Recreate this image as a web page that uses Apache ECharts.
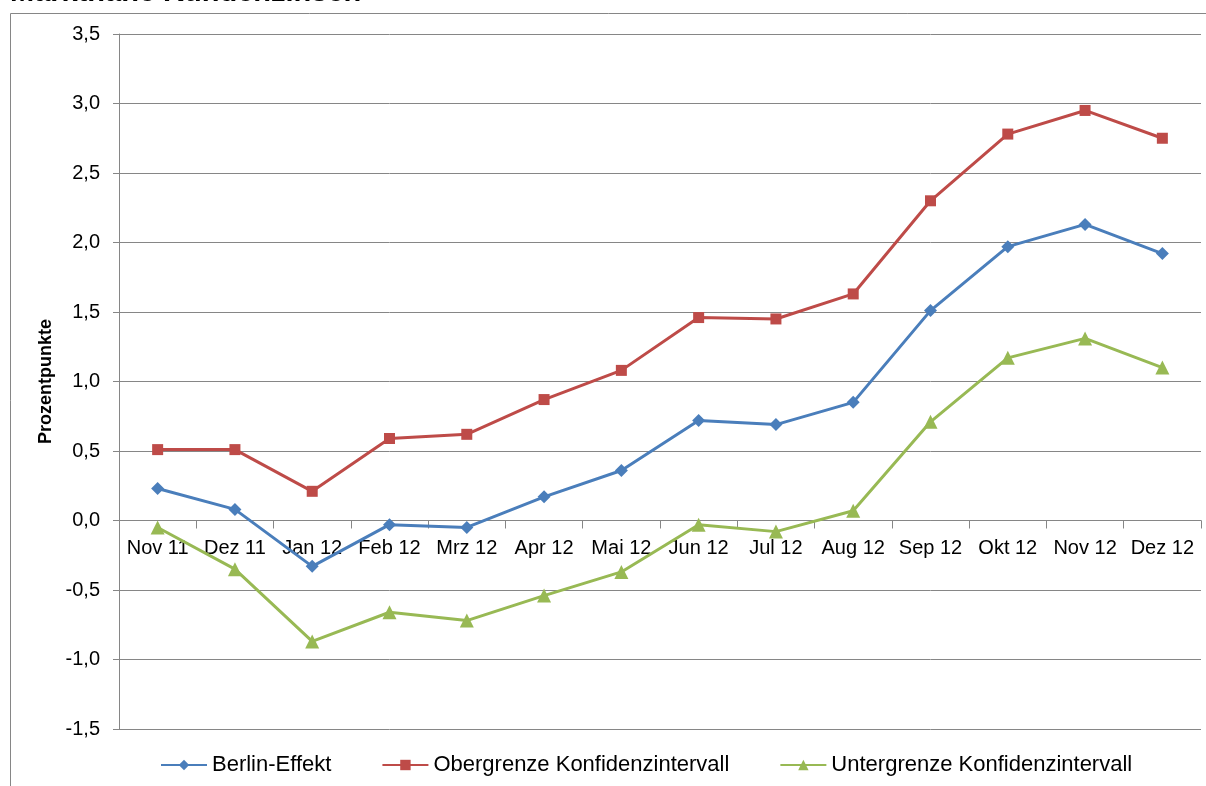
<!DOCTYPE html>
<html>
<head>
<meta charset="utf-8">
<script src="https://cdn.jsdelivr.net/npm/echarts@6/dist/echarts.min.js"></script>
<style>
  html, body { margin: 0; padding: 0; background: #fff; }
  #chart { width: 1206px; height: 786px; }
</style>
</head>
<body>
<div id="chart"></div>
<script>
// months along the x axis
const months = ["Nov 11", "Dez 11", "Jan 12", "Feb 12", "Mrz 12", "Apr 12", "Mai 12",
  "Jun 12", "Jul 12", "Aug 12", "Sep 12", "Okt 12", "Nov 12", "Dez 12"];

// values (Prozentpunkte)
const berlin_effekt = [0.23, 0.08, -0.33, -0.03, -0.05, 0.17, 0.36, 0.72, 0.69, 0.85, 1.51, 1.97, 2.13, 1.92];
const obergrenze = [0.51, 0.51, 0.21, 0.59, 0.62, 0.87, 1.08, 1.46, 1.45, 1.63, 2.30, 2.78, 2.95, 2.75];
const untergrenze = [-0.05, -0.35, -0.87, -0.66, -0.72, -0.54, -0.37, -0.03, -0.08, 0.07, 0.71, 1.17, 1.31, 1.10];

const FONT = "'Liberation Sans', Arial, sans-serif";
const GRID_GRAY = "#868686";
const FS = 20;

function line(name, data, color, symbol, size) {
    return {
        name,
        type: "line",
        data,
        symbol,
        symbolSize: size,
        lineStyle: { color, width: 3 },
        itemStyle: { color },
        emphasis: { disabled: true },
        animation: false,
    };
}

const chart = echarts.init(document.getElementById("chart"), null, { renderer: "canvas" });

chart.setOption({
    animation: false,
    textStyle: { fontFamily: FONT },
    graphic: [
        // frame around the chart area (cut off at the right and bottom)
        {
            type: "rect",
            shape: { x: 10.5, y: 13.5, width: 1400, height: 1000 },
            style: { fill: null, stroke: GRID_GRAY, lineWidth: 1 },
            silent: true,
        },
        // title, mostly cut off above the picture
        {
            type: "text",
            x: 10,
            y: 7,
            style: {
                text: "Marktnahe Kundenzinsen",
                font: "bold 29px " + FONT,
                fill: "#000",
                verticalAlign: "bottom",
            },
            silent: true,
        },
    ],
    grid: { left: 119, right: 5, top: 34, bottom: 57, containLabel: false },
    legend: {
        bottom: 5,
        left: 155,
        itemWidth: 46,
        itemHeight: 13,
        itemGap: 50,
        textStyle: { fontFamily: FONT, fontSize: 22, color: "#000" },
        data: ["Berlin-Effekt", "Obergrenze Konfidenzintervall", "Untergrenze Konfidenzintervall"],
    },
    xAxis: [
        {
            type: "category",
            data: months,
            boundaryGap: true,
            axisLine: { onZero: true, lineStyle: { color: GRID_GRAY, width: 1 } },
            axisTick: { show: true, length: 8, inside: false, lineStyle: { color: GRID_GRAY } },
            axisLabel: { show: false },
            splitLine: { show: false },
        },
        // labels only, sitting just under the zero line
        {
            type: "category",
            data: months,
            boundaryGap: true,
            position: "bottom",
            offset: -208.5,
            axisLine: { show: false, onZero: false },
            axisTick: { show: false },
            axisLabel: { color: "#000", fontSize: FS, fontFamily: FONT, margin: 18, interval: 0 },
            splitLine: { show: false },
        },
    ],
    yAxis: {
        type: "value",
        min: -1.5,
        max: 3.5,
        interval: 0.5,
        name: "Prozentpunkte",
        nameLocation: "middle",
        nameGap: 64,
        nameTextStyle: { fontFamily: FONT, fontSize: 18, fontWeight: "bold", color: "#000" },
        axisLine: { show: true, lineStyle: { color: GRID_GRAY, width: 1 } },
        axisTick: { show: true, length: 6, lineStyle: { color: GRID_GRAY } },
        axisLabel: {
            color: "#000",
            fontSize: FS,
            fontFamily: FONT,
            margin: 19,
            formatter: (v) => v.toFixed(1).replace(".", ","),
        },
        splitLine: { show: true, lineStyle: { color: GRID_GRAY, width: 1 } },
    },
    series: [
        line("Berlin-Effekt", berlin_effekt, "#4a7ebb", "diamond", 13),
        line("Obergrenze Konfidenzintervall", obergrenze, "#be4b48", "rect", 11),
        line("Untergrenze Konfidenzintervall", untergrenze, "#98b954", "triangle", 14),
    ],
});
</script>
</body>
</html>
